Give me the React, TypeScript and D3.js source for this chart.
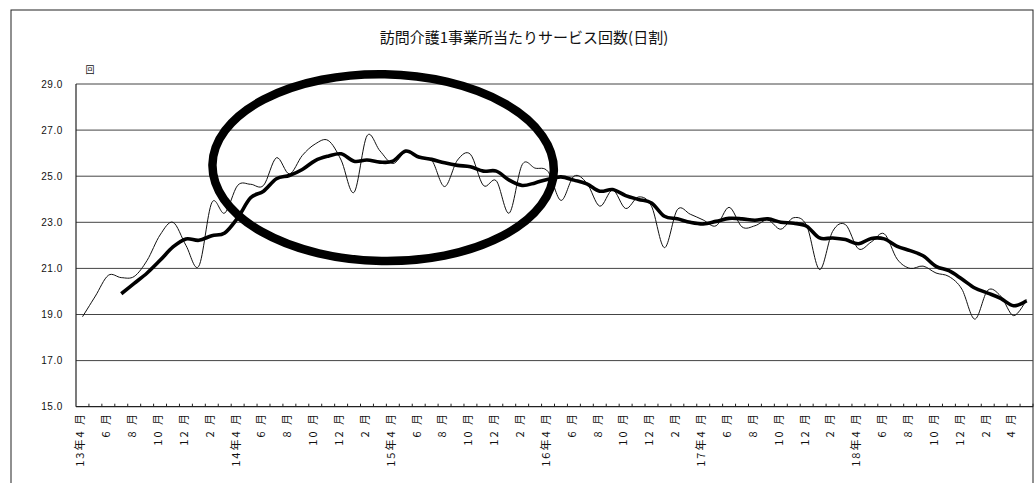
import React from "react";
import * as d3 from "d3";

const categories: string[] = [
  "H13-04","H13-05","H13-06","H13-07","H13-08","H13-09","H13-10","H13-11","H13-12","H14-01","H14-02","H14-03",
  "H14-04","H14-05","H14-06","H14-07","H14-08","H14-09","H14-10","H14-11","H14-12","H15-01","H15-02","H15-03",
  "H15-04","H15-05","H15-06","H15-07","H15-08","H15-09","H15-10","H15-11","H15-12","H16-01","H16-02","H16-03",
  "H16-04","H16-05","H16-06","H16-07","H16-08","H16-09","H16-10","H16-11","H16-12","H17-01","H17-02","H17-03",
  "H17-04","H17-05","H17-06","H17-07","H17-08","H17-09","H17-10","H17-11","H17-12","H18-01","H18-02","H18-03",
  "H18-04","H18-05","H18-06","H18-07","H18-08","H18-09","H18-10","H18-11","H18-12","H19-01","H19-02","H19-03",
  "H19-04","H19-05",
];

// label shown under every second category
const tickLabels: string[] = [
  "13年4 月","6 月","8 月","10 月","12 月","2 月",
  "14年4 月","6 月","8 月","10 月","12 月","2 月",
  "15年4 月","6 月","8 月","10 月","12 月","2 月",
  "16年4 月","6 月","8 月","10 月","12 月","2 月",
  "17年4 月","6 月","8 月","10 月","12 月","2 月",
  "18年4 月","6 月","8 月","10 月","12 月","2 月",
  "4 月",
];

const monthly: number[] = [
  18.9, 19.8, 20.7, 20.6, 20.65, 21.35, 22.45, 23.0, 22.0, 21.1, 23.85, 23.4,
  24.6, 24.65, 24.6, 25.8, 25.1, 25.9, 26.4, 26.55, 25.7, 24.3, 26.75, 26.1,
  25.55, 26.05, 25.8, 25.7, 24.55, 25.7, 25.95, 24.6, 24.8, 23.4, 25.5, 25.35,
  25.2, 23.95, 25.0, 24.7, 23.7, 24.4, 23.6, 24.1, 23.7, 21.9, 23.55, 23.35,
  23.1, 22.85, 23.65, 22.8, 22.85, 23.1, 22.7, 23.2, 22.85, 20.95, 22.6, 22.9,
  21.85, 22.15, 22.5, 21.4, 21.0, 21.1, 20.8, 20.65, 20.1, 18.8, 20.05, 19.8,
  18.95, 19.65,
];

const movingAvg: (number | null)[] = [
  null, null, null, 19.9, 20.35, 20.8, 21.35, 21.93, 22.28, 22.22, 22.42, 22.54,
  23.19, 24.06, 24.35, 24.89, 25.03, 25.29, 25.68, 25.87, 25.97, 25.65, 25.7, 25.61,
  25.65, 26.09, 25.83, 25.73, 25.58, 25.47, 25.41, 25.22, 25.22, 24.83, 24.6, 24.71,
  24.87, 24.97, 24.83, 24.67, 24.35, 24.42, 24.16, 23.99, 23.84, 23.26, 23.15, 23.0,
  22.93, 23.04, 23.17, 23.15, 23.09, 23.15, 23.0, 22.96, 22.83, 22.32, 22.32, 22.25,
  22.07, 22.3, 22.28, 21.96, 21.77, 21.55, 21.09, 20.9, 20.54, 20.15, 19.93, 19.7,
  19.38, 19.6,
];

const yTicks: number[] = [15, 17, 19, 21, 23, 25, 27, 29];

// highlight ellipse annotation, in data units (category index / value)
const ellipseCenterIndex = 23.25;
const ellipseCenterValue = 25.37;
const ellipseHalfMonths = 13.2;
const ellipseHalfValue = 4.05;

const W = 1035;
const H = 483;
const plotLeft = 76;
const plotRight = 1033;
const plotTop = 84;
const plotBottom = 406.7;

export default function App() {
  const x = d3.scaleBand<string>().domain(categories).range([plotLeft, plotRight]).padding(0);
  const bw = x.bandwidth();
  const cx = (i: number) => (x(categories[0]) as number) + bw / 2 + i * bw;
  const y = d3.scaleLinear().domain([15, 29]).range([plotBottom, plotTop]);

  const thinLine = d3
    .line<number>()
    .x((_, i) => cx(i))
    .y((d) => y(d))
    .curve(d3.curveCatmullRom.alpha(0));

  const thickLine = d3
    .line<number | null>()
    .defined((d) => d !== null)
    .x((_, i) => cx(i))
    .y((d) => y(d as number))
    .curve(d3.curveCatmullRom.alpha(0));

  const eCx = cx(ellipseCenterIndex);
  const eCy = y(ellipseCenterValue);
  const eRx = ellipseHalfMonths * bw;
  const eRy = y(ellipseCenterValue - ellipseHalfValue) - eCy;

  const font = "'Liberation Sans', Arial, 'Noto Sans CJK JP', sans-serif";

  return (
    <div style={{ position: "absolute", left: 0, top: 0 }}>
      <svg width={W} height={H} style={{ display: "block", background: "#fff" }}>
        {/* outer frame */}
        <rect x={11} y={10} width={1022} height={500} fill="none" stroke="#222" strokeWidth={1} />
        {/* title */}
        <text
          x={524}
          y={43}
          textAnchor="middle"
          fontFamily="'Noto Sans CJK JP', sans-serif"
          fontSize={15}
          fill="#111"
        >
          訪問介護1事業所当たりサービス回数(日割)
        </text>
        {/* unit */}
        <text x={90} y={73} textAnchor="middle" fontFamily="'Noto Sans CJK JP', sans-serif" fontSize={9} fill="#111">
          回
        </text>
        {/* gridlines */}
        {yTicks
          .filter((t) => t > 15)
          .map((t) => (
            <line key={t} x1={plotLeft} x2={plotRight} y1={y(t)} y2={y(t)} stroke="#444" strokeWidth={1} />
          ))}
        {/* y labels */}
        {yTicks.map((t) => (
          <text
            key={"l" + t}
            x={63}
            y={y(t)}
            dy="0.35em"
            textAnchor="end"
            fontFamily={font}
            fontSize={10}
            letterSpacing={0.6}
            fill="#111"
          >
            {t.toFixed(1)}
          </text>
        ))}
        {/* axes */}
        <line x1={plotLeft} x2={plotLeft} y1={plotTop} y2={plotBottom} stroke="#222" strokeWidth={1.2} />
        <line x1={plotLeft} x2={plotRight} y1={plotBottom} y2={plotBottom} stroke="#222" strokeWidth={1.2} />
        {categories.map((c) => (
          <line
            key={"t" + c}
            x1={(x(c) as number) + bw}
            x2={(x(c) as number) + bw}
            y1={plotBottom}
            y2={plotBottom - 3}
            stroke="#222"
            strokeWidth={1}
          />
        ))}
        {/* x labels */}
        {tickLabels.map((lab, k) => {
          const i = k * 2;
          const px = cx(i) - 2;
          return (
            <text
              key={"x" + k}
              transform={`translate(${px},412) rotate(-90)`}
              textAnchor="end"
              dy="0.35em"
              fontFamily="'Noto Sans CJK JP', sans-serif"
              fontSize={11}
              letterSpacing={2}
              fill="#111"
            >
              {lab}
            </text>
          );
        })}
        {/* series */}
        <path d={thinLine(monthly) || ""} fill="none" stroke="#111" strokeWidth={1} />
        <path d={thickLine(movingAvg) || ""} fill="none" stroke="#000" strokeWidth={3.6} strokeLinejoin="round" />
        {/* annotation ellipse */}
        <ellipse
          cx={eCx}
          cy={eCy}
          rx={eRx}
          ry={eRy}
          fill="none"
          stroke="#000"
          strokeWidth={8.5}
          transform={`rotate(1 ${eCx} ${eCy})`}
        />
      </svg>
    </div>
  );
}
